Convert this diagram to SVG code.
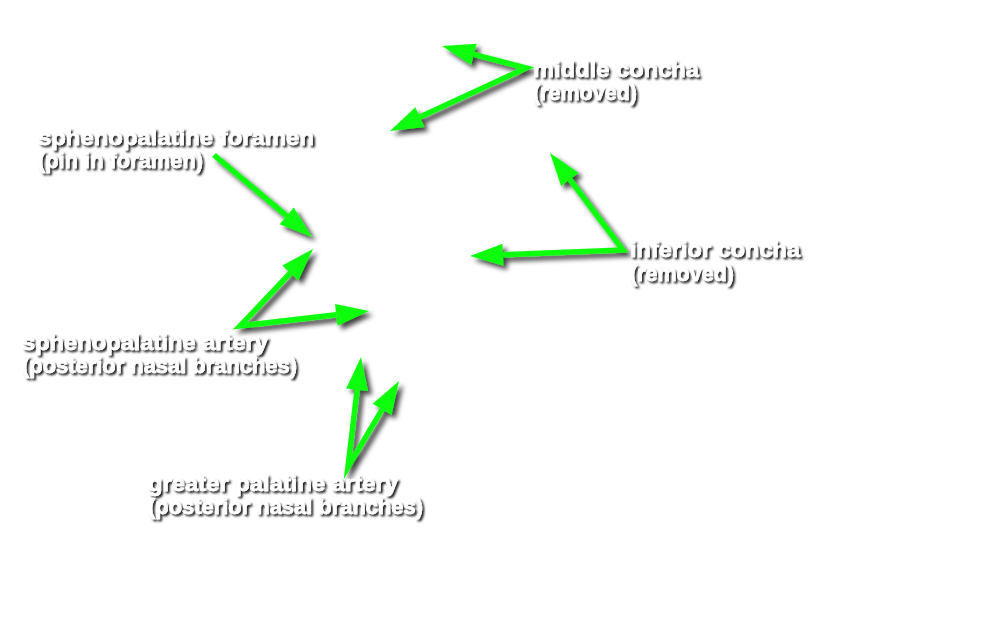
<svg xmlns="http://www.w3.org/2000/svg" width="1000" height="624" viewBox="0 0 1000 624">
<defs>
<filter id="tsh" x="-10%" y="-30%" width="120%" height="170%">
<feDropShadow dx="2" dy="2" stdDeviation="1.3" flood-color="#000" flood-opacity="0.9"/>
</filter>
<filter id="ash" x="-20%" y="-20%" width="150%" height="150%">
<feDropShadow dx="4" dy="4" stdDeviation="2.5" flood-color="#000" flood-opacity="0.75"/>
</filter>
</defs>
<style>
.lbl{font-family:"Liberation Sans",Arial,sans-serif;font-weight:bold;font-size:21.5px;fill:#fff;stroke:#fff;stroke-width:0.5;filter:url(#tsh)}
.shaft{fill:none;stroke:#0cff0c;stroke-width:5.5;stroke-linejoin:miter;stroke-miterlimit:10}
.head{fill:#0cff0c}
.arrow{filter:url(#ash)}
</style>
<rect width="1000" height="624" fill="#fff"/>
<g id="connectors">
<g id="arrows-middle-concha" class="arrow">
<path class="shaft" d="M473.9,54.4 L526,68 L419.9,117.1"/>
<polygon class="head" points="442,46 471.1,65 476.7,43.7"/>
<polygon class="head" points="390,131 424.6,127.1 415.3,107.2"/>
</g>
<g id="arrow-foramen" class="arrow">
<path class="shaft" d="M214,155 L286.7,215.8"/>
<polygon class="head" points="312,237 293.8,207.4 279.6,224.3"/>
</g>
<g id="arrows-spa" class="arrow">
<path class="shaft" d="M290.3,273 L240,326 L336.2,314.8"/>
<polygon class="head" points="313,249 298.3,280.5 282.3,265.4"/>
<polygon class="head" points="369,311 337.5,325.7 335,303.9"/>
</g>
<g id="arrows-gpa" class="arrow">
<path class="shaft" d="M357.1,389.8 L348,467 L382.2,409.4"/>
<polygon class="head" points="361,357 368.1,391.1 346.2,388.5"/>
<polygon class="head" points="399,381 391.6,415 372.7,403.8"/>
</g>
<g id="arrows-inferior-concha" class="arrow">
<path class="shaft" d="M569.8,179.4 L623,250 L503,254.7"/>
<polygon class="head" points="550,153 561.1,186 578.6,172.8"/>
<polygon class="head" points="470,256 503.4,265.7 502.5,243.7"/>
</g>
</g>
<g id="node-middle-concha">
<text class="lbl" x="533" y="77" textLength="166" lengthAdjust="spacingAndGlyphs">middle concha</text>
<text class="lbl" x="533" y="100" textLength="104" lengthAdjust="spacingAndGlyphs">(removed)</text>
</g>
<g id="node-sphenopalatine-foramen">
<text class="lbl" x="38" y="145" textLength="276" lengthAdjust="spacingAndGlyphs">sphenopalatine foramen</text>
<text class="lbl" x="38" y="168" textLength="165" lengthAdjust="spacingAndGlyphs">(pin in foramen)</text>
</g>
<g id="node-inferior-concha">
<text class="lbl" x="630" y="257" textLength="170" lengthAdjust="spacingAndGlyphs">inferior concha</text>
<text class="lbl" x="630" y="281" textLength="104" lengthAdjust="spacingAndGlyphs">(removed)</text>
</g>
<g id="node-sphenopalatine-artery">
<text class="lbl" x="22" y="350" textLength="246" lengthAdjust="spacingAndGlyphs">sphenopalatine artery</text>
<text class="lbl" x="22" y="373" textLength="275" lengthAdjust="spacingAndGlyphs">(posterior nasal branches)</text>
</g>
<g id="node-greater-palatine-artery">
<text class="lbl" x="148" y="491" textLength="250" lengthAdjust="spacingAndGlyphs">greater palatine artery</text>
<text class="lbl" x="148" y="514" textLength="275" lengthAdjust="spacingAndGlyphs">(posterior nasal branches)</text>
</g>
</svg>
